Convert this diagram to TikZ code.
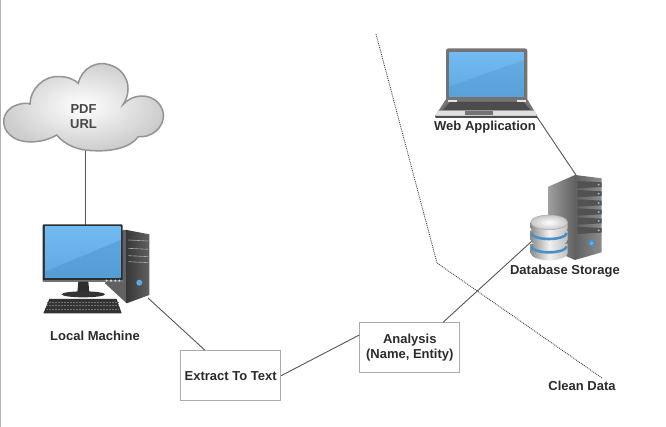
\documentclass[tikz,border=0pt]{standalone}
\usepackage{fontspec}
\setmainfont{Liberation Sans}
\usetikzlibrary{calc}
\definecolor{txt}{HTML}{2B2B2B}
\definecolor{wire}{HTML}{555555}
\definecolor{scr}{HTML}{72BBF2}
\definecolor{scrm}{HTML}{5FA8E0}
\definecolor{scrd}{HTML}{4A90C8}
\definecolor{dk}{HTML}{2E2E2E}
\tikzset{
  x=1pt,y=-1pt,
  conn/.style={draw=wire,line width=0.9pt},
  proc/.style={draw=black!33,fill=white,line width=0.9pt,font=\bfseries\fontsize{13}{15}\selectfont,text=txt,align=center,inner sep=0pt,minimum width=100pt,minimum height=50pt},
  lab/.style={font=\bfseries\fontsize{13}{15}\selectfont,text=txt,align=center,inner sep=0pt},
  zoomed/.style={x=0.3333pt,y=-0.3333pt},
}
\begin{document}
\begin{tikzpicture}
\useasboundingbox (0,0) rectangle (666,427);
\draw[black!30,line width=1pt] (0.5,0) -- (0.5,427);
\coordinate (cloudb) at (85,150);
\coordinate (pctop) at (85,225);
\coordinate (pcb) at (148,298);
\coordinate (webb) at (537,117);
\coordinate (srvt) at (576,175);
\coordinate (dbl) at (532,241);
\coordinate (d1) at (376,34);
\coordinate (d2) at (437,263);
\coordinate (d3) at (602,378);
\node[proc] (ext) at (230.7,375.7) {Extract To Text};
\node[proc] (ana) at (409.8,347.7) {Analysis\\(Name, Entity)};
\draw[conn] (cloudb) -- (pctop);
\draw[conn] (pcb) -- ($(ext.north west)!0.245!(ext.north east)$);
\draw[conn] (ext.east) -- ($(ana.north west)!0.25!(ana.south west)$);
\draw[conn] ($(ana.north west)!0.83!(ana.north east)$) -- (dbl);
\draw[conn] (webb) -- (srvt);
\draw[black!75,line width=0.9pt,densely dotted] (d1) -- (d2) -- (d3);
% cloud
\begin{scope}[zoomed,shift={(0pt,-60pt)}]
\shade[inner color=white,outer color=black!20,draw=black!42,line width=1.5pt]
 (170,225) .. controls (130,250) and (60,255) .. (30,225)
 .. controls (0,200) and (5,150) .. (50,135)
 .. controls (65,130) and (80,128) .. (90,132)
 .. controls (90,90) and (130,45) .. (180,50)
 .. controls (205,50) and (225,60) .. (235,70)
 .. controls (245,25) and (290,0) .. (330,15)
 .. controls (380,30) and (400,85) .. (370,133)
 .. controls (410,90) and (480,105) .. (490,160)
 .. controls (495,205) and (450,235) .. (415,230)
 .. controls (390,265) and (330,275) .. (280,272)
 .. controls (235,272) and (195,255) .. (170,225) -- cycle;
\end{scope}
\node[font=\bfseries\fontsize{13}{15}\selectfont,text=black!72,align=center,inner sep=0pt] (cloudlab) at (83.5,116.5) {PDF\\URL};
% desktop
\begin{scope}[zoomed,shift={(30pt,-215pt)}]
\fill[black!62] (225,205) -- (278,45) -- (290,45) -- (290,265) -- cycle;
\shade[left color=black!78,right color=black!62] (290,45) -- (358,58) -- (358,240) -- (290,265) -- cycle;
\foreach \yy in {75,100,122,140}{\draw[black!35,line width=0.6pt] (295,\yy) -- (355,\yy+3);}
\fill[scrm] (328,203) circle (9);
\fill[dk,rounded corners=1pt] (38,28) rectangle (278,200);
\fill[black!55] (38,194) rectangle (278,200);
\shade[top color=scr,bottom color=scrm] (45,35) rectangle (272,188);
\fill[scrd,opacity=.45] (45,188) -- (45,170) -- (272,75) -- (272,188) -- cycle;
\foreach \xx in {230,243,256,268}{\fill[white!85!black] (\xx,197) circle (3.5);}
\fill[dk] (145,200) -- (175,200) -- (178,232) -- (142,232) -- cycle;
\fill[black!80] (160,238) ellipse (65 and 9);
\fill[black!80] (58,252) -- (260,252) -- (275,295) -- (40,295) -- cycle;
\foreach \yy in {262,272,282}{\draw[black!55,line width=0.5pt,densely dotted] (52,\yy) -- (265,\yy);}
\end{scope}
\node[lab] (pclab) at (95,336) {Local Machine};
% laptop
\begin{scope}[zoomed,shift={(430pt,-40pt)}]
\fill[black!55,rounded corners=2.5pt] (48,25) rectangle (292,185);
\shade[top color=scr,bottom color=scrm] (58,38) rectangle (282,170);
\fill[scrd,opacity=.3] (58,170) -- (58,140) -- (282,60) -- (282,170) -- cycle;
\fill[black!55] (48,178) -- (292,178) -- (322,228) -- (15,228) -- cycle;
\fill[black!70] (60,186) -- (280,186) -- (302,210) -- (38,210) -- cycle;
\fill[black!10] (55,179) rectangle (82,187);
\fill[black!10] (262,179) rectangle (288,187);
\fill[black!12] (22,212) -- (316,212) -- (320,228) -- (17,228) -- cycle;
\fill[black!55] (105,212) rectangle (188,226);
\fill[black!70,rounded corners=1pt] (15,228) rectangle (323,234);
\end{scope}
\node[lab] (weblab) at (485,127) {Web Application};
% server
\begin{scope}[zoomed,shift={(500pt,-165pt)}]
\shade[left color=black!38,right color=black!62] (145,65) -- (225,30) -- (225,285) -- (145,250) -- cycle;
\shade[left color=black!62,right color=black!45] (225,30) -- (305,40) -- (305,262) -- (225,285) -- cycle;
\foreach \yy in {48,75,103,130,157,185}{
  \fill[black!68] (232,\yy) -- (305,\yy+4) -- (305,\yy+18) -- (232,\yy+22) -- cycle;
  \fill[scr] (296,\yy+11) circle (3.5);
}
\fill[scrd] (275,235) circle (10);
\fill[scr] (275,235) circle (5);
% database
\foreach \ycen in {250,210}{
 \shade[left color=black!45,right color=black!25,middle color=black!6] (92,\ycen-14) -- (92,\ycen+14) arc[start angle=180,end angle=0,x radius=55.5,y radius=22] -- (203,\ycen-14) -- cycle;
 \draw[scrd,line width=2.6pt] (94,\ycen-6) arc[start angle=180,end angle=0,x radius=53,y radius=18];
}
\shade[left color=black!45,right color=black!25,middle color=black!5] (92,172) -- (92,190) arc[start angle=180,end angle=0,x radius=55.5,y radius=22] -- (203,172) -- cycle;
\shade[inner color=white,outer color=black!22,draw=black!35,line width=0.5pt] (147.5,172) ellipse (55.5 and 22);
\end{scope}
\node[lab] (dblab) at (565,271) {Database Storage};
\node[lab] (cleanlab) at (582,386) {Clean Data};
\end{tikzpicture}
\end{document}
